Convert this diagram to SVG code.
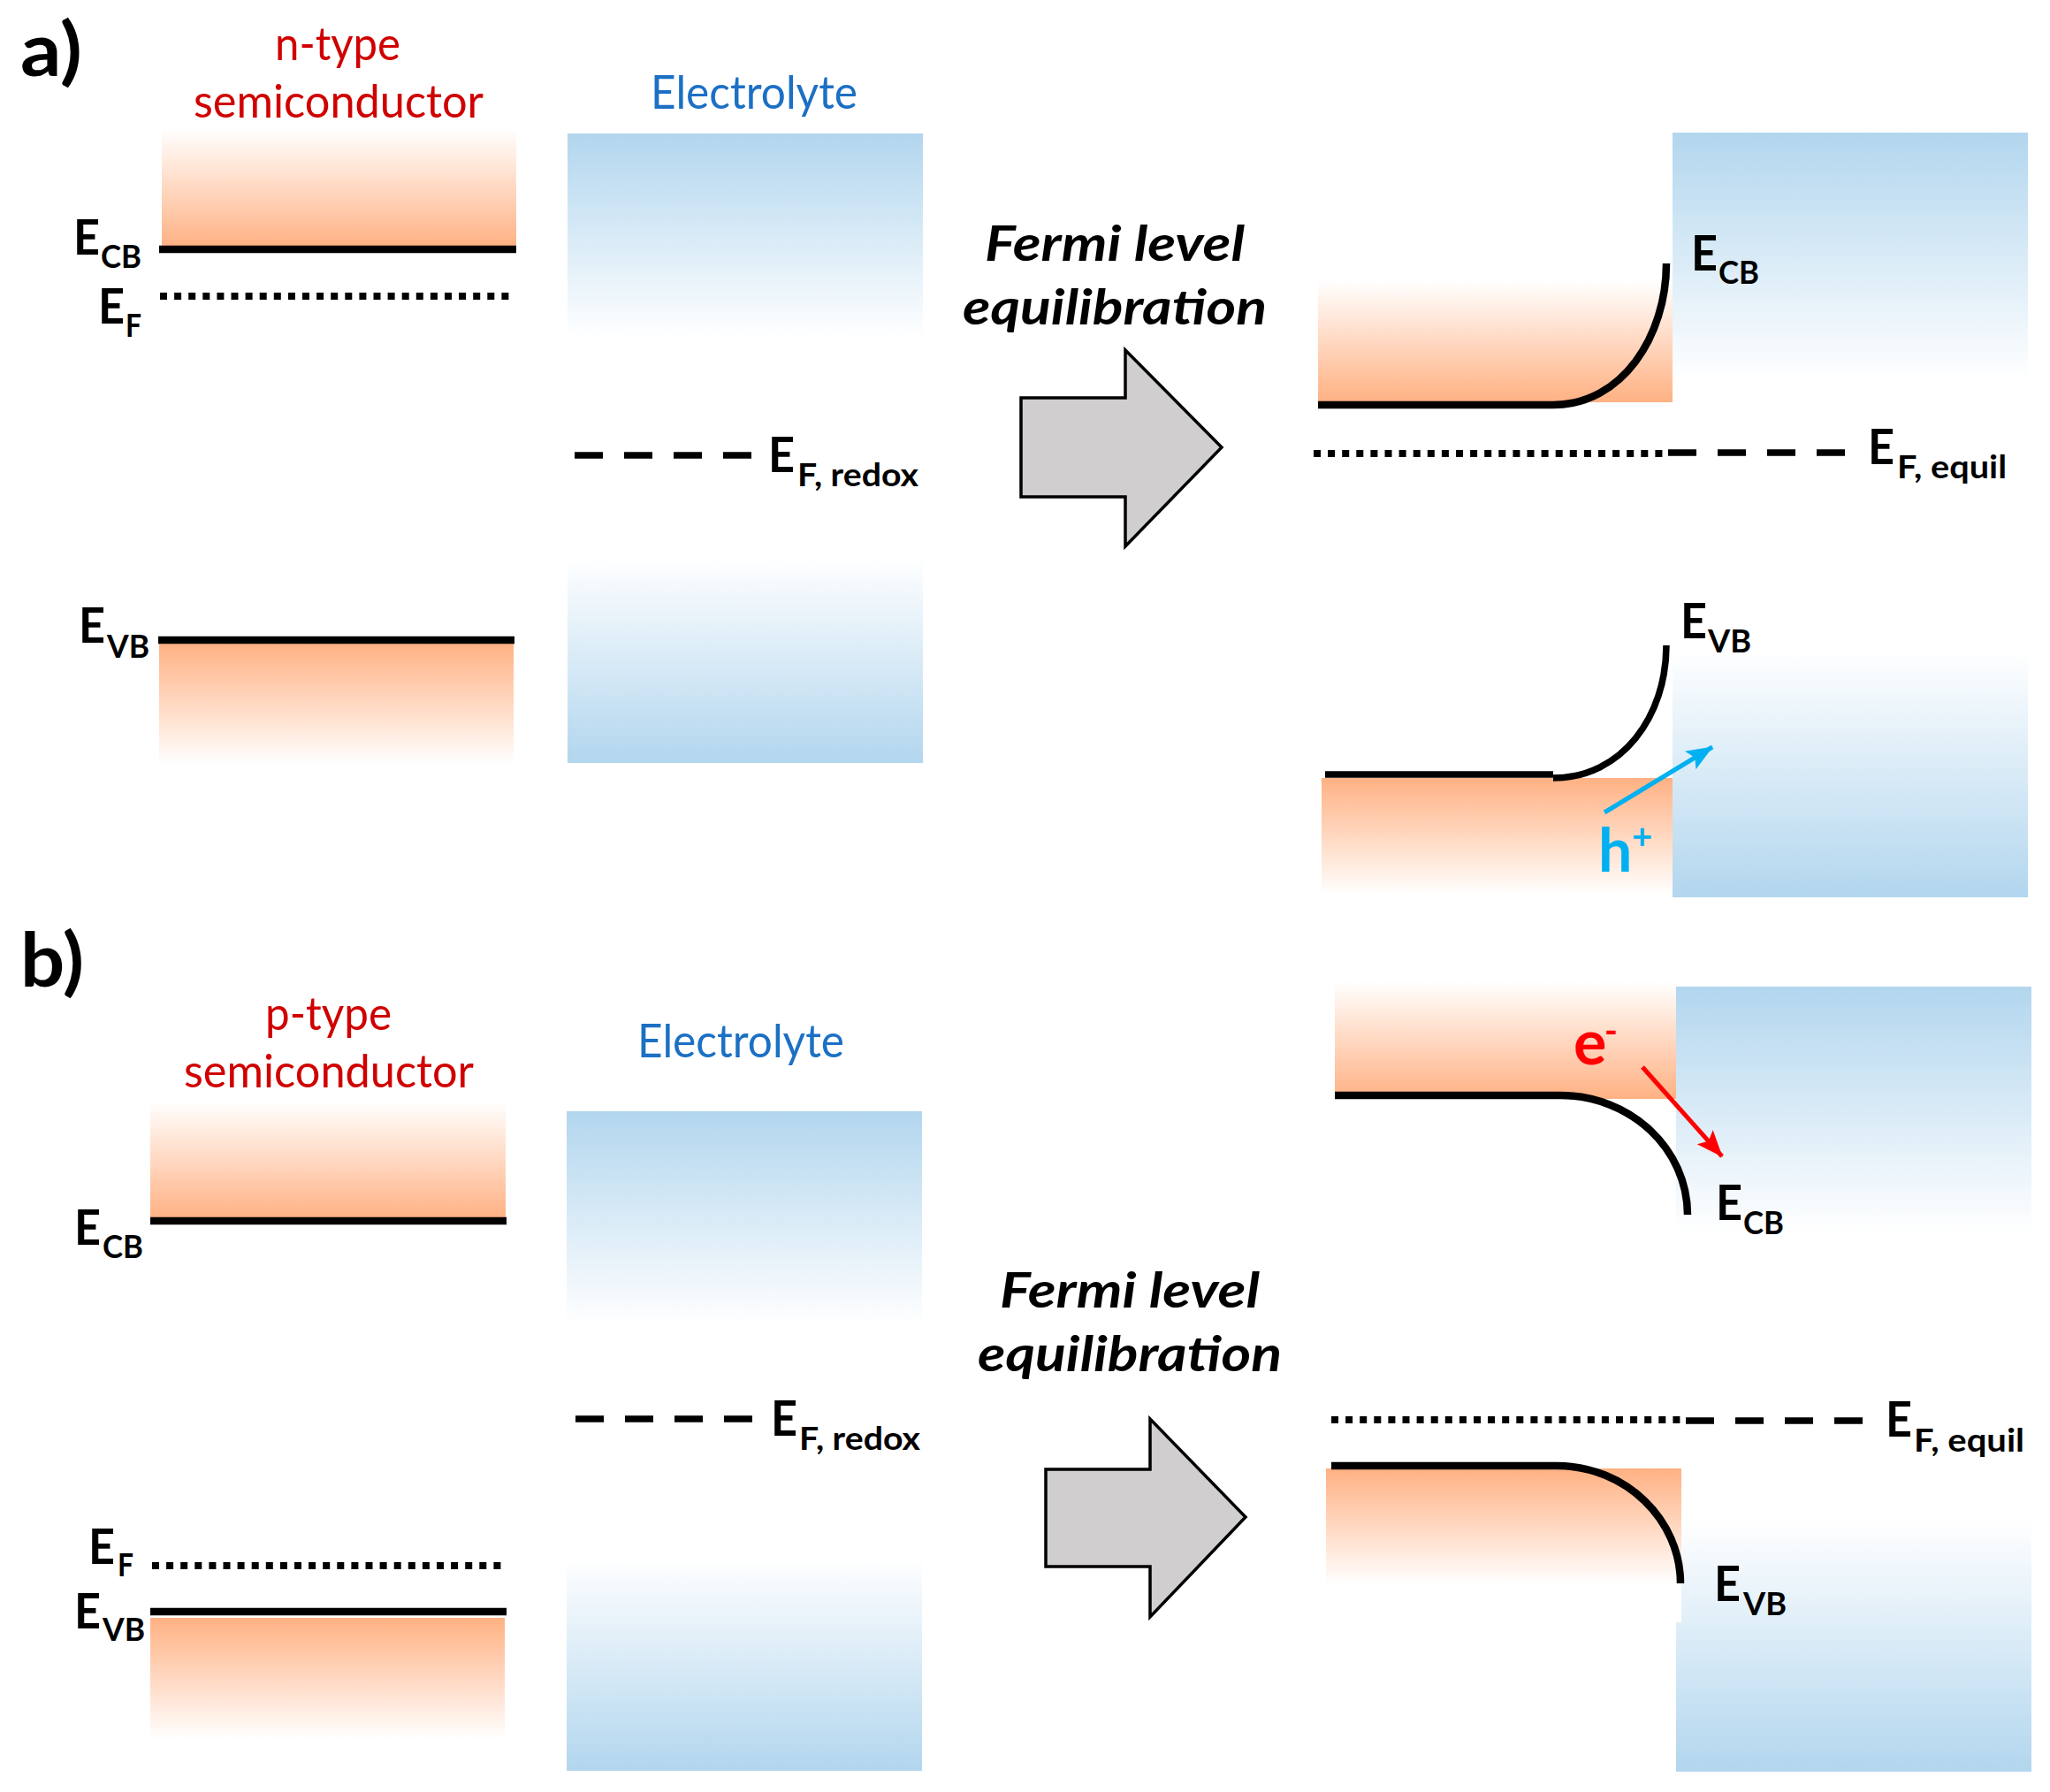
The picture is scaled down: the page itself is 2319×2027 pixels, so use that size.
<svg xmlns="http://www.w3.org/2000/svg" width="2319" height="2027" viewBox="0 0 2319 2027">
<style>
text{font-family:Lato,"Carlito","Open Sans",sans-serif}
.e{font-size:56px;font-weight:700;fill:#000}
.s{font-size:36px;font-weight:700;fill:#000}
.t{font-size:52px;font-weight:400}
.r{fill:#d00000}
.b{fill:#1c70c4}
.p{font-size:84px;font-weight:700;fill:#000}
.f{font-size:56px;font-weight:700;font-style:italic;fill:#000}
.lv{fill:none;stroke:#000;stroke-width:8.5}
.dot{fill:none;stroke:#000;stroke-width:8;stroke-dasharray:8 8.1}
.dash{fill:none;stroke:#000;stroke-width:7.5;stroke-dasharray:32 24}
.big{fill:#d0cece;stroke:#000;stroke-width:3.5}
</style>
<defs>
<linearGradient id="ou" x1="0" y1="0" x2="0" y2="1"><stop offset="0" stop-color="#fff"/><stop offset="1" stop-color="#ffb183"/></linearGradient>
<linearGradient id="od" x1="0" y1="0" x2="0" y2="1"><stop offset="0" stop-color="#ffb183"/><stop offset="1" stop-color="#fff"/></linearGradient>
<linearGradient id="bd" x1="0" y1="0" x2="0" y2="1"><stop offset="0" stop-color="#b2d6ee"/><stop offset="1" stop-color="#fff"/></linearGradient>
<linearGradient id="bu" x1="0" y1="0" x2="0" y2="1"><stop offset="0" stop-color="#fff"/><stop offset="1" stop-color="#b2d6ee"/></linearGradient>
<marker id="ah-c" markerUnits="userSpaceOnUse" markerWidth="34" markerHeight="26" refX="29" refY="12" orient="auto"><path d="M0 0L30 12L0 24L6 12Z" fill="#00b0f0"/></marker>
<marker id="ah-r" markerUnits="userSpaceOnUse" markerWidth="34" markerHeight="26" refX="29" refY="12" orient="auto"><path d="M0 0L30 12L0 24L6 12Z" fill="#f00"/></marker>
</defs>

<g id="panel-a-left">
<text class="p" x="23" y="86" textLength="70" lengthAdjust="spacingAndGlyphs">a)</text>
<text class="t r" x="311" y="68" textLength="142" lengthAdjust="spacingAndGlyphs">n-type</text>
<text class="t r" x="219" y="133" textLength="328" lengthAdjust="spacingAndGlyphs">semiconductor</text>
<text class="t b" x="736" y="123" textLength="234" lengthAdjust="spacingAndGlyphs">Electrolyte</text>
<rect x="183" y="146" width="401" height="134" fill="url(#ou)"/>
<rect x="180" y="727" width="401" height="138" fill="url(#od)"/>
<rect x="642" y="151" width="402" height="233" fill="url(#bd)"/>
<rect x="642" y="630" width="402" height="233" fill="url(#bu)"/>
<path class="lv" d="M180 282H584"/>
<path class="lv" d="M179 724H582"/>
<path class="dot" d="M181 335H580"/>
<path class="dash" d="M650 515H851"/>
<text class="e" x="83" y="288" textLength="30" lengthAdjust="spacingAndGlyphs">E</text><text class="s" x="114" y="303" textLength="46" lengthAdjust="spacingAndGlyphs">CB</text>
<text class="e" x="111" y="366" textLength="30" lengthAdjust="spacingAndGlyphs">E</text><text class="s" x="142" y="381" textLength="18" lengthAdjust="spacingAndGlyphs">F</text>
<text class="e" x="89" y="727" textLength="30" lengthAdjust="spacingAndGlyphs">E</text><text class="s" x="121" y="744" textLength="48" lengthAdjust="spacingAndGlyphs">VB</text>
<text class="e" x="869" y="534" textLength="30" lengthAdjust="spacingAndGlyphs">E</text><text class="s" x="902" y="550" textLength="137" lengthAdjust="spacingAndGlyphs">F, redox</text>
</g>

<g id="panel-a-right">
<text class="f" x="1114" y="295" textLength="294" lengthAdjust="spacingAndGlyphs">Fermi level</text>
<text class="f" x="1089" y="367" textLength="344" lengthAdjust="spacingAndGlyphs">equilibration</text>
<polygon class="big" points="1155,450 1273,450 1273,396 1382,506 1273,618 1273,562 1155,562"/>
<rect x="1892" y="150" width="402" height="280" fill="url(#bd)"/>
<rect x="1892" y="736" width="402" height="279" fill="url(#bu)"/>
<rect x="1491" y="318" width="401" height="137" fill="url(#ou)"/>
<rect x="1495" y="880" width="397" height="132" fill="url(#od)"/>
<path class="lv" d="M1491 458H1757C1835 458 1885 380 1885 298"/>
<path class="lv" style="stroke-width:7.5" d="M1499 876H1757M1757 880C1835 880 1885 810 1885 730"/>
<path class="dot" d="M1486 513H1885"/>
<path class="dash" d="M1887 512H2088"/>
<text class="e" x="1913" y="306" textLength="30" lengthAdjust="spacingAndGlyphs">E</text><text class="s" x="1944" y="321" textLength="46" lengthAdjust="spacingAndGlyphs">CB</text>
<text class="e" x="2113" y="525" textLength="30" lengthAdjust="spacingAndGlyphs">E</text><text class="s" x="2146" y="541" textLength="124" lengthAdjust="spacingAndGlyphs">F, equil</text>
<text class="e" x="1901" y="722" textLength="30" lengthAdjust="spacingAndGlyphs">E</text><text class="s" x="1932" y="738" textLength="49" lengthAdjust="spacingAndGlyphs">VB</text>
<path d="M1815 919L1937 845" fill="none" stroke="#00b0f0" stroke-width="5" marker-end="url(#ah-c)"/>
<text x="1808" y="986" font-size="68" font-weight="700" fill="#00b0f0">h</text><text x="1846" y="960" font-size="40" font-weight="700" fill="#00b0f0">+</text>
</g>

<g id="panel-b-left">
<text class="p" x="23" y="1116" textLength="72" lengthAdjust="spacingAndGlyphs">b)</text>
<text class="t r" x="300" y="1165" textLength="143" lengthAdjust="spacingAndGlyphs">p-type</text>
<text class="t r" x="208" y="1230" textLength="328" lengthAdjust="spacingAndGlyphs">semiconductor</text>
<text class="t b" x="721" y="1196" textLength="234" lengthAdjust="spacingAndGlyphs">Electrolyte</text>
<rect x="170" y="1246" width="402" height="133" fill="url(#ou)"/>
<rect x="170" y="1830" width="401" height="137" fill="url(#od)"/>
<rect x="641" y="1257" width="402" height="241" fill="url(#bd)"/>
<rect x="641" y="1762" width="402" height="241" fill="url(#bu)"/>
<path class="lv" d="M170 1381H573"/>
<path class="lv" d="M170 1823H573"/>
<path class="dot" d="M172 1771H573"/>
<path class="dash" d="M651 1605H852"/>
<text class="e" x="84" y="1408" textLength="30" lengthAdjust="spacingAndGlyphs">E</text><text class="s" x="116" y="1423" textLength="46" lengthAdjust="spacingAndGlyphs">CB</text>
<text class="e" x="100" y="1769" textLength="30" lengthAdjust="spacingAndGlyphs">E</text><text class="s" x="133" y="1783" textLength="18" lengthAdjust="spacingAndGlyphs">F</text>
<text class="e" x="84" y="1842" textLength="30" lengthAdjust="spacingAndGlyphs">E</text><text class="s" x="116" y="1856" textLength="48" lengthAdjust="spacingAndGlyphs">VB</text>
<text class="e" x="872" y="1624" textLength="30" lengthAdjust="spacingAndGlyphs">E</text><text class="s" x="904" y="1640" textLength="137" lengthAdjust="spacingAndGlyphs">F, redox</text>
</g>

<g id="panel-b-right">
<text class="f" x="1131" y="1479" textLength="294" lengthAdjust="spacingAndGlyphs">Fermi level</text>
<text class="f" x="1106" y="1551" textLength="344" lengthAdjust="spacingAndGlyphs">equilibration</text>
<polygon class="big" points="1183,1662 1301,1662 1301,1605 1409,1716 1301,1829 1301,1772 1183,1772"/>
<rect x="1896" y="1116" width="402" height="278" fill="url(#bd)"/>
<rect x="1896" y="1720" width="402" height="284" fill="url(#bu)"/>
<rect x="1510" y="1110" width="386" height="133" fill="url(#ou)"/>
<rect x="1500" y="1661" width="402" height="131" fill="url(#od)"/>
<rect x="1896" y="1792" width="6" height="43" fill="#fff"/>
<path class="lv" d="M1510 1239H1765C1845 1239 1909 1300 1909 1374"/>
<path class="lv" d="M1506 1658H1761C1840 1658 1901 1720 1901 1791"/>
<path class="dot" d="M1506 1606H1903"/>
<path class="dash" d="M1907 1607H2108"/>
<text class="e" x="1941" y="1380" textLength="30" lengthAdjust="spacingAndGlyphs">E</text><text class="s" x="1972" y="1396" textLength="46" lengthAdjust="spacingAndGlyphs">CB</text>
<text class="e" x="2133" y="1625" textLength="30" lengthAdjust="spacingAndGlyphs">E</text><text class="s" x="2165" y="1642" textLength="125" lengthAdjust="spacingAndGlyphs">F, equil</text>
<text class="e" x="1939" y="1811" textLength="30" lengthAdjust="spacingAndGlyphs">E</text><text class="s" x="1972" y="1827" textLength="49" lengthAdjust="spacingAndGlyphs">VB</text>
<path d="M1858 1207L1948 1308" fill="none" stroke="#f00" stroke-width="5" marker-end="url(#ah-r)"/>
<text x="1780" y="1204" font-size="70" font-weight="700" fill="#f00">e</text><text x="1815" y="1180" font-size="40" font-weight="700" fill="#f00">-</text>
</g>
</svg>
